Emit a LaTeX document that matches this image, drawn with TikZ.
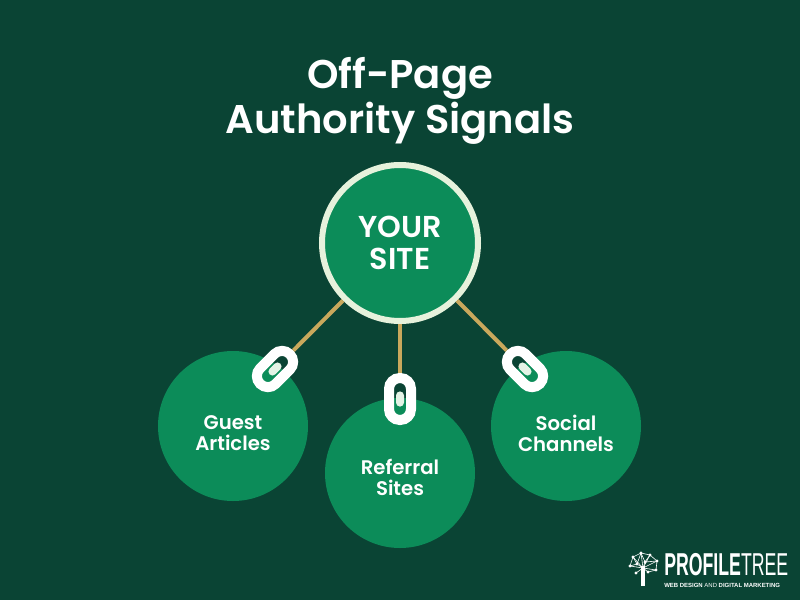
\documentclass[tikz,border=0pt]{standalone}
\usepackage{fontspec}
\setmainfont{Poppins}[BoldFont=* SemiBold]
\newfontfamily\logofont{Liberation Sans}[FakeStretch=0.56]
\newfontfamily\tagfont{Liberation Sans}
\usetikzlibrary{calc}
\definecolor{bgdark}{HTML}{0A4434}
\definecolor{leafgreen}{HTML}{0C8C59}
\definecolor{ringpale}{HTML}{E6F2DC}
\definecolor{linkgold}{HTML}{C9A85C}
\definecolor{pinpale}{HTML}{E4F3E6}
\tikzset{
  x=0.25mm,y=-0.25mm,
  hub/.style={circle,fill=leafgreen,draw=ringpale,line width=1.5mm,minimum size=39mm,
    text=white,font=\fontsize{21.5}{23}\selectfont\bfseries,align=center,inner sep=0pt},
  spoke/.style={circle,fill=leafgreen,minimum size=37.5mm,inner sep=0pt},
  spoketext/.style={text=white,font=\fontsize{14}{15}\selectfont\bfseries,align=center},
  linkbar/.style={draw=linkgold,line width=1mm},
  chainlink/.style={rectangle,draw=white,line width=2.5mm,rounded corners=2.7mm,
    minimum width=5.5mm,minimum height=10.5mm,inner sep=0pt},
  chainpin/.style={rectangle,fill=pinpale,rounded corners=1mm,
    minimum width=2mm,minimum height=3.8mm,inner sep=0pt},
  twig/.style={draw=white,line width=0.15mm}
}
\begin{document}
\begin{tikzpicture}
    \fill[bgdark] (0,0) rectangle (800,600);
    \useasboundingbox (0,0) rectangle (800,600);
    \node[text=white,font=\fontsize{28.5}{32}\selectfont\bfseries,align=center] (title) at (400,101)
    {Off-Page\\Authority Signals};
    % circles
    \node[hub] (site) at (400,243) {YOUR\\SITE};
    \node[spoke] (guest) at (233,426) {};
    \node[spoke] (referral) at (400,473) {};
    \node[spoke] (social) at (566,426) {};
    \node[spoketext] (guesttext) at (233,433) {Guest\\Articles};
    \node[spoketext] (referraltext) at (400,477) {Referral\\Sites};
    \node[spoketext] (socialtext) at (566,433) {Social\\Channels};
    % links
    \node[chainlink,rotate=-45] (guestlink) at (275,369) {};
    \node[chainlink] (referrallink) at (400,399) {};
    \node[chainlink,rotate=45] (sociallink) at (525,369) {};
    \node[chainpin,rotate=-45] (guestpin) at (275,369) {};
    \node[chainpin] (referralpin) at (400,399) {};
    \node[chainpin,rotate=45] (socialpin) at (525,369) {};
    \draw[linkbar] (site) -- (guestlink);
    \draw[linkbar] (site) -- (referrallink);
    \draw[linkbar] (site) -- (sociallink);
    % logo
    \node[anchor=base west,text=white,inner sep=0pt,font=\fontsize{22.5}{20}\selectfont\logofont] (logoname) at (664,575)
    {\textbf{PROFILE}TREE};
    \node[anchor=base west,text=white,inner sep=0pt,font=\fontsize{4.25}{5}\selectfont\tagfont] (logotag) at (664,587)
    {\textbf{WEB DESIGN} AND \textbf{DIGITAL MARKETING}};
    \draw[white,line width=1mm] (643,586) -- (643,566);
    \foreach \tx/\ty in {630/566,633/557,641/553,650/555,657/561,656/570,648/572,636/573,645/562,637/564}{
      \fill[white] (\tx,\ty) circle (0.4mm);
      \draw[twig] (643,568) -- (\tx,\ty);
    }
    \draw[twig] (630,566) -- (633,557) -- (641,553) -- (650,555) -- (657,561) -- (656,570) -- (648,572);
    \draw[twig] (630,566) -- (637,564) -- (633,557) (637,564) -- (641,553) -- (645,562) -- (650,555) (645,562) -- (657,561);
  \end{tikzpicture}
\end{document}
